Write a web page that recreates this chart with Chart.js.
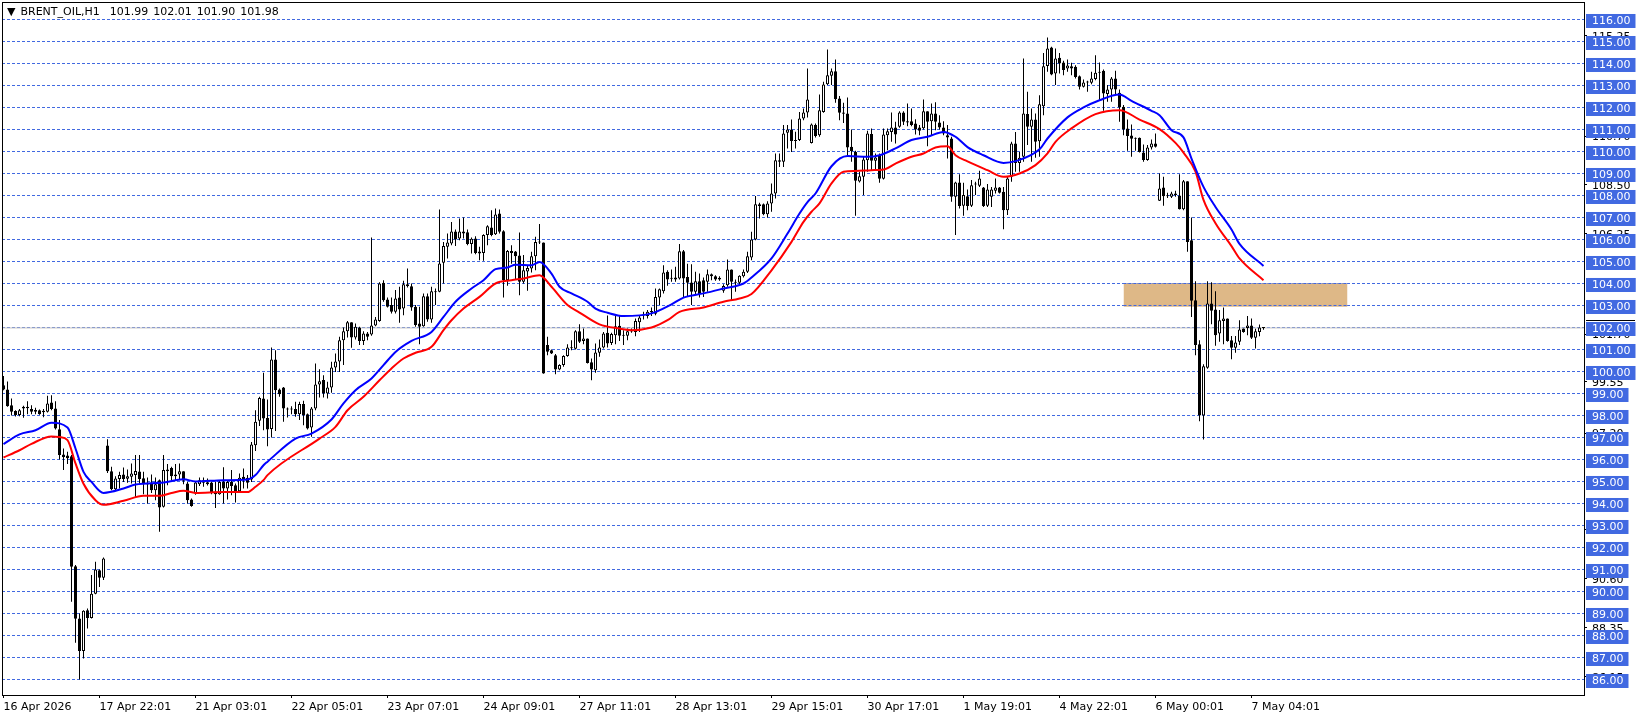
<!DOCTYPE html>
<html>
<head>
<meta charset="utf-8">
<title>BRENT_OIL,H1</title>
<script src="https://cdn.jsdelivr.net/npm/chart.js@4/dist/chart.umd.js"></script>
<style>
	html, body { margin: 0; padding: 0; background: #fff; }
	#wrap { position: relative; width: 1641px; height: 719px; overflow: hidden; }
	#chart { display: block; }
	#header {
		position: absolute; left: 7px; top: 5px; white-space: pre; word-spacing: 1.5px;
		font: 11px "DejaVu Sans", sans-serif; color: #000; line-height: 14px;
	}
</style>
</head>
<body>
<div id="wrap">
	<canvas id="chart" width="1641" height="719"></canvas>
	<div id="header">▼ BRENT_OIL,H1  101.99 102.01 101.90 101.98</div>
</div>
<script>
// Hourly candles, one value per bar
const opens = [
	99.38,99.18,98.47,98.20,98.02,98.40,98.40,98.29,98.25,98.24,
	98.21,98.17,98.59,98.32,97.38,96.23,96.18,96.15,91.15,88.77,
	87.30,89.15,88.80,89.90,90.97,90.62,96.64,95.47,94.65,95.11,
	95.32,95.12,95.21,95.29,95.45,95.15,94.94,94.94,94.60,95.06,
	93.85,95.55,95.61,95.32,95.32,95.47,94.91,94.18,94.45,94.88,
	94.94,94.97,94.95,94.53,94.42,94.98,94.68,94.98,94.83,94.56,
	95.21,95.17,95.09,96.65,97.76,98.77,97.89,97.39,100.55,99.18,
	99.27,98.32,98.30,98.29,98.06,98.52,98.06,97.45,98.32,99.41,
	99.61,99.00,99.27,100.18,100.45,101.42,101.83,102.24,101.55,102.00,
	101.39,101.73,101.68,102.09,102.30,104.03,103.27,103.02,102.71,103.36,
	102.86,103.97,103.88,102.94,102.18,102.06,103.42,102.36,103.60,103.62,
	104.94,105.67,105.82,106.36,106.05,106.36,106.33,105.79,106.05,105.45,
	105.39,106.20,106.55,106.24,107.18,106.38,104.15,105.48,105.45,105.27,
	104.08,104.55,104.68,105.24,105.88,105.86,101.20,100.97,100.74,100.09,
	100.29,100.70,101.06,101.03,101.83,101.39,101.50,100.42,100.06,100.85,
	101.09,101.76,101.30,101.65,102.08,101.65,101.62,101.85,101.80,102.24,
	102.56,102.52,102.71,102.62,103.36,103.65,104.53,104.24,104.27,104.23,
	105.47,104.30,104.05,103.62,104.10,104.15,104.08,104.42,104.33,104.26,
	103.67,103.92,104.64,104.08,104.03,104.33,104.53,105.18,106.00,107.60,
	107.60,107.15,107.64,108.09,109.60,109.53,110.85,111.00,110.50,110.52,
	111.50,111.77,110.39,111.20,110.74,111.80,113.06,113.44,113.65,112.41,
	111.77,111.73,110.21,109.98,108.64,108.85,109.60,110.79,109.58,109.83,
	108.76,110.74,110.89,111.09,111.12,111.77,111.38,111.38,111.27,111.09,
	111.06,111.83,111.38,111.73,111.32,111.09,110.74,110.59,107.94,108.59,
	107.53,107.97,107.53,108.50,108.44,108.36,107.53,107.94,108.21,108.36,
	108.17,107.33,108.85,110.36,109.48,109.76,111.70,111.12,111.45,110.47,
	112.06,113.89,114.73,113.55,114.26,114.05,113.77,113.88,113.85,113.42,
	112.94,113.14,113.12,113.29,113.58,113.67,112.61,112.82,113.32,112.67,
	112.03,111.05,110.73,110.60,110.62,109.95,109.61,110.18,110.36,107.76,
	108.36,107.97,107.94,108.09,108.00,107.38,108.65,105.97,103.24,101.24,
	98.00,100.17,103.09,102.82,101.73,102.30,102.41,101.42,101.08,101.35,
	101.95,101.98,102.09,101.53,101.80,101.99
];
const highs = [
	99.79,99.55,98.77,98.24,98.30,98.44,98.65,98.47,98.35,98.27,
	98.29,98.90,98.92,98.65,97.79,96.50,96.35,96.20,91.20,89.00,
	89.15,89.23,90.75,91.35,91.00,91.55,96.92,95.67,95.24,95.44,
	95.64,95.55,95.82,96.20,96.20,95.44,95.18,95.32,95.18,95.09,
	96.20,95.79,95.67,95.79,95.82,95.47,94.98,94.23,95.00,95.18,
	95.18,95.14,95.00,95.00,95.05,95.65,95.06,95.52,94.91,95.36,
	95.59,95.29,96.79,98.24,98.85,99.94,98.73,101.09,100.97,99.23,
	99.30,98.36,98.42,98.62,98.62,98.67,98.09,98.39,100.36,100.10,
	99.83,99.53,100.44,100.82,101.58,102.00,102.29,102.24,102.18,102.03,
	101.83,101.80,106.09,102.48,104.06,104.15,103.36,103.36,103.70,103.85,
	104.12,104.68,104.00,103.02,102.94,103.55,103.55,103.85,103.77,107.36,
	105.89,106.27,106.79,106.45,106.95,107.00,106.45,106.09,106.15,105.67,
	106.24,106.65,107.33,107.41,107.36,106.42,105.52,105.74,105.48,106.32,
	105.29,104.83,105.44,106.12,106.70,105.86,101.58,101.00,100.79,100.33,
	100.74,101.24,101.42,101.88,102.15,101.95,101.50,100.59,101.27,101.45,
	101.80,102.55,101.76,102.55,102.55,101.88,101.95,101.95,102.41,102.56,
	102.71,102.79,102.91,103.77,103.77,104.83,104.60,104.64,104.76,105.79,
	105.52,104.90,104.88,104.53,104.45,104.27,104.64,104.45,104.38,104.33,
	103.97,105.09,104.64,104.18,104.38,104.64,105.44,106.35,107.98,107.67,
	107.64,107.74,108.55,109.91,109.91,111.20,111.20,111.45,110.90,111.80,
	111.95,113.77,111.27,111.27,112.59,113.17,114.64,113.77,114.18,112.52,
	112.21,112.45,111.00,110.03,109.08,109.76,110.94,111.05,109.91,109.91,
	111.05,111.05,111.77,111.35,111.83,111.83,112.18,111.95,111.47,111.20,
	112.36,111.83,112.18,112.24,111.65,111.38,111.20,110.67,108.62,108.97,
	108.58,108.27,108.70,108.62,109.12,108.39,108.52,108.39,108.77,108.39,
	108.39,108.85,110.44,110.89,109.98,114.23,112.71,111.95,111.73,112.56,
	114.48,115.18,114.76,114.68,114.48,114.12,114.18,114.03,113.92,113.45,
	113.27,113.21,113.62,114.38,114.05,113.73,113.02,113.39,113.67,112.82,
	112.11,111.45,111.23,110.64,110.64,110.32,110.29,110.55,110.82,109.00,
	108.85,108.12,108.17,108.21,108.97,108.70,108.65,107.00,104.10,101.42,
	100.33,104.10,104.06,103.65,102.79,102.91,102.41,101.61,101.61,102.33,
	101.95,102.52,102.41,101.94,102.14,102.01
];
const lows = [
	99.15,98.40,98.00,97.95,97.97,97.90,98.06,98.06,98.06,98.03,
	97.92,98.14,98.24,97.36,96.00,95.52,95.79,89.53,87.67,86.00,
	86.95,88.32,88.77,89.88,90.20,90.52,95.39,94.60,94.60,94.68,
	94.98,94.94,94.91,94.30,94.91,94.42,94.00,94.48,94.15,92.71,
	93.82,94.83,95.06,95.06,95.09,94.88,94.00,93.85,94.40,94.79,
	94.76,94.82,94.42,93.80,94.40,94.00,94.18,94.38,94.05,94.53,
	94.68,94.68,94.98,96.39,97.52,97.33,96.60,97.00,97.30,98.85,
	97.71,97.91,98.06,97.94,97.79,97.56,97.36,97.03,98.24,98.82,
	98.82,98.77,99.03,99.98,99.98,100.29,101.55,101.08,101.45,101.20,
	101.20,101.42,101.62,102.06,102.26,103.17,102.91,102.64,102.64,102.21,
	102.56,103.82,102.76,102.03,101.24,102.03,102.26,102.21,103.02,103.60,
	104.00,105.14,105.74,105.70,105.97,106.05,105.74,105.36,105.33,105.06,
	105.03,105.74,106.15,106.20,106.27,103.36,103.90,104.90,104.20,103.47,
	104.00,103.67,104.50,104.60,105.79,99.90,100.74,100.79,99.88,100.06,
	100.21,100.67,100.97,101.00,101.30,101.24,100.36,99.60,99.94,100.67,
	101.05,101.09,101.20,101.24,101.39,101.20,101.42,101.76,101.60,101.80,
	102.36,102.41,102.52,102.56,103.02,103.55,103.90,104.08,104.08,104.18,
	103.39,103.40,103.02,103.52,103.36,103.39,103.62,104.15,104.12,104.12,
	103.58,103.85,103.24,103.62,103.97,104.27,104.48,105.06,105.97,106.95,
	107.10,107.00,107.26,107.86,109.30,109.30,110.14,109.98,110.14,110.48,
	111.42,111.55,110.36,110.64,110.67,111.76,113.02,113.02,112.21,111.42,
	111.30,109.76,109.53,107.08,108.59,108.02,109.08,109.15,109.12,108.58,
	108.73,110.06,110.44,110.36,111.08,111.20,111.15,111.15,110.77,110.74,
	111.00,110.24,110.74,110.97,111.00,110.74,109.68,107.71,106.20,107.41,
	107.08,107.33,107.48,108.02,108.39,107.48,107.48,107.48,108.09,108.09,
	106.47,107.11,108.62,109.08,109.08,109.53,110.30,109.53,109.71,109.76,
	111.65,113.62,113.47,113.02,113.55,113.47,113.62,113.47,113.32,112.82,
	112.91,112.71,113.06,113.24,112.33,111.85,112.26,112.26,112.56,111.35,
	110.74,110.03,109.76,110.03,109.95,109.53,109.58,110.09,110.18,107.75,
	107.53,107.89,107.89,107.94,107.36,107.33,105.44,102.48,100.74,97.74,
	96.91,100.12,102.15,101.17,101.35,101.24,101.35,100.56,100.85,101.20,
	101.76,101.65,101.48,101.05,101.60,101.90
];
const closes = [
	99.18,98.42,98.17,98.02,98.24,98.32,98.33,98.17,98.17,98.06,
	98.15,98.55,98.29,97.41,96.20,96.10,96.06,91.12,88.76,87.30,
	89.12,88.80,89.90,91.00,90.62,91.50,95.47,94.65,95.14,95.29,
	95.11,95.24,95.36,95.48,95.11,94.88,94.86,94.60,94.88,93.82,
	95.52,95.47,95.24,95.24,95.47,95.03,94.15,93.89,94.95,95.06,
	95.06,94.88,94.48,94.42,94.98,94.68,94.98,94.79,94.53,95.17,
	95.06,94.94,96.68,97.71,98.80,97.86,97.36,100.55,99.15,98.97,
	98.32,98.27,98.27,98.06,98.52,98.02,97.41,98.32,99.41,99.56,
	99.00,99.27,100.18,100.45,101.42,101.83,102.24,101.55,102.03,101.39,
	101.73,101.58,102.09,102.36,104.00,103.24,102.94,102.71,103.32,102.82,
	103.97,103.88,102.91,102.11,102.03,103.42,102.36,103.65,103.65,104.91,
	105.70,105.86,106.36,106.00,106.36,106.27,105.79,106.03,105.39,105.36,
	106.20,106.60,106.20,107.14,106.35,104.15,105.48,105.39,105.24,104.08,
	104.60,104.70,105.24,105.89,105.86,99.91,100.90,100.82,100.09,100.29,
	100.70,101.09,101.09,101.83,101.35,101.50,100.39,100.09,100.86,101.09,
	101.73,101.27,101.70,102.06,101.62,101.62,101.83,101.82,102.29,102.45,
	102.55,102.71,102.70,103.39,103.74,104.50,104.18,104.22,104.18,105.47,
	104.23,104.03,103.62,104.10,103.52,103.62,104.42,104.33,104.18,104.18,
	103.89,104.64,104.08,104.03,104.35,104.53,105.24,106.00,107.60,107.52,
	107.15,107.64,108.09,109.60,109.53,110.82,111.00,110.48,110.48,111.50,
	111.77,112.36,111.23,110.70,111.88,113.05,113.47,113.65,112.38,111.76,
	111.71,110.18,110.02,108.67,108.88,109.64,110.82,109.58,109.73,108.76,
	110.77,110.92,111.09,110.77,111.77,111.35,111.32,111.20,111.00,110.94,
	111.83,111.35,111.73,111.35,111.09,110.82,110.64,107.94,108.59,107.52,
	108.02,107.52,108.47,108.52,108.77,107.52,108.27,108.27,108.36,108.12,
	107.33,108.77,110.36,109.48,109.71,111.73,111.12,111.45,110.44,112.15,
	113.88,114.68,113.50,114.23,114.00,113.70,113.91,113.77,113.39,112.94,
	113.14,113.17,113.32,113.58,113.62,112.64,112.82,113.32,112.82,112.00,
	111.00,110.70,110.58,110.58,109.98,109.61,110.18,110.36,110.21,108.32,
	107.97,107.96,108.09,108.02,107.38,108.65,105.89,103.21,101.20,98.00,
	100.24,103.09,102.76,101.65,102.33,102.41,101.39,101.08,101.32,101.91,
	101.80,102.09,101.53,101.83,102.00,101.98
];

// Moving averages, sampled at the bars where they could be read
const blueBars = [
	0,4,8,12,16,18,20,22,25,30,33,40,45,48,55,61,63,65,66,73,77,82,85,88,92,95,98,102,107,110,113,
	117,120,123,126,128,132,134,137,139,142,146,148,151,155,162,167,170,175,180,185,187,192,196,199,
	201,203,207,211,216,219,223,227,231,235,238,241,245,250,253,259,261,266,270,274,279,282,287,289,
	292,295,297,300,303,307,309,315
];
const blueValues = [
	96.70,97.14,97.33,97.67,97.45,96.50,95.44,94.98,94.48,94.68,94.86,94.95,95.10,95.00,95.06,95.09,95.29,95.74,95.90,
	96.95,97.18,97.82,98.55,99.15,99.68,100.29,100.89,101.39,101.80,102.48,103.17,
	103.77,104.15,104.65,104.73,104.85,104.83,104.98,104.45,103.85,103.55,103.17,102.86,102.67,102.52,102.64,103.05,
	103.36,103.55,103.77,104.00,104.27,105.14,106.27,107.18,
	107.70,108.09,109.33,109.79,109.76,109.83,110.14,110.52,110.67,110.89,110.67,110.20,109.83,109.48,109.56,110.10,
	110.59,111.55,112.00,112.33,112.59,112.30,111.85,111.65,
	110.97,110.64,109.68,108.39,107.48,106.45,105.80,104.80
];
const redBars = [
	0,4,7,12,14,16,18,20,23,25,30,35,39,42,45,48,55,61,63,65,66,79,83,86,90,94,97,100,103,107,110,112,115,
	119,123,127,130,134,137,141,144,149,154,157,162,166,169,175,180,184,187,192,197,200,
	202,204,207,210,213,217,220,223,227,230,233,236,238,241,246,250,254,258,261,263,267,273,279,284,
	289,293,295,298,300,303,307,309,315
];
const redValues = [
	96.09,96.42,96.71,97.05,97.02,96.88,95.82,94.90,94.15,93.94,94.12,94.35,94.35,94.48,94.58,94.48,94.52,94.52,94.76,95.06,95.29,
	96.95,97.48,98.24,98.85,99.60,100.14,100.59,100.85,101.12,101.88,102.33,102.86,
	103.39,104.00,104.15,104.23,104.38,103.85,103.02,102.68,102.14,101.95,101.88,102.00,102.33,102.71,102.91,103.17,103.32,103.52,104.60,105.89,106.80,
	107.26,107.64,108.55,109.08,109.11,109.15,109.18,109.45,109.76,109.91,110.18,110.24,109.83,109.55,109.15,108.85,109.00,109.38,109.91,110.44,111.05,111.70,111.88,111.45,
	111.02,110.39,109.95,109.08,107.80,106.74,105.70,105.14,104.15
];

// Price levels
const levelPrices = [
	116,115,114,113,112,111,110,109,108,107,106,105,104,103,102,101,
	100,99,98,97,96,95,94,93,92,91,90,89,88,87,86
];
const nativeTicks = [115.25,113.0,110.7,108.5,106.25,104.0,101.7,99.55,97.2,95.0,92.8,90.6,88.35,86.15];
const bidPrice = 101.98;

// Supply zone
const zoneBars = [280, 336];
const zoneTop = 104.0;
const zoneBottom = 102.94;
const zoneLevels = [104, 103];

// Time axis
const timeTickBars = [0,24,48,72,96,120,144,168,192,216,240,264,288,312];
const timeLabels = [
	"16 Apr 2026","17 Apr 22:01","21 Apr 03:01","22 Apr 05:01","23 Apr 07:01","24 Apr 09:01","27 Apr 11:01",
	"28 Apr 13:01","29 Apr 15:01","30 Apr 17:01","1 May 19:01","4 May 22:01","6 May 00:01","7 May 04:01"
];

const AXIS_FONT = { family: "'DejaVu Sans', sans-serif", size: 11, lineHeight: "14px" };
const LEVEL_BLUE = "#4169e1";

const bars = opens.map((_, i) => i);
const isLevel = (v) => levelPrices.includes(v);
const toPoints = (xs, ys) => xs.map((x, i) => ({ x: x, y: ys[i] }));

// Keep the first and last labels from pushing the plot inwards
const clearAxisPadding = (scale) => {
	scale.paddingLeft = 0;
	scale.paddingRight = 0;
	scale.paddingTop = 0;
	scale.paddingBottom = 0;
};

new Chart(document.getElementById("chart"), {
	data: {
		datasets: [
			{
				type: "line",
				data: zoneBars.map((x) => ({ x: x, y: zoneTop })),
				borderWidth: 0,
				pointRadius: 0,
				fill: "+1",
				backgroundColor: "#deb887",
				order: 20,
			},
			{
				type: "line",
				data: zoneBars.map((x) => ({ x: x, y: zoneBottom })),
				borderWidth: 0,
				pointRadius: 0,
				order: 21,
			},
			...zoneLevels.map((level) => ({
				type: "line",
				data: zoneBars.map((x) => ({ x: x, y: level })),
				borderColor: LEVEL_BLUE,
				borderWidth: 1,
				borderDash: [3, 2],
				pointRadius: 0,
				order: 15,
			})),
			{
				type: "line",
				data: [{ x: -0.375, y: bidPrice }, { x: 395.125, y: bidPrice }],
				borderColor: "#c0c0c0",
				borderWidth: 1,
				pointRadius: 0,
				order: 12,
			},
			{
				// wicks
				type: "bar",
				data: bars.map((i) => ({ x: i, y: [lows[i], highs[i]] })),
				backgroundColor: "#000",
				barThickness: 1,
				grouped: false,
				inflateAmount: 0,
				order: 6,
			},
			{
				// bodies
				type: "bar",
				data: bars.map((i) => ({ x: i, y: [opens[i], closes[i]] })),
				backgroundColor: bars.map((i) => (closes[i] >= opens[i] ? "#fff" : "#000")),
				borderColor: "#000",
				borderWidth: 1,
				borderSkipped: false,
				barThickness: 3,
				minBarLength: 1,
				grouped: false,
				inflateAmount: 0,
				order: 5,
			},
			{
				type: "line",
				data: toPoints(redBars, redValues),
				borderColor: "#ff0000",
				borderWidth: 2,
				pointRadius: 0,
				cubicInterpolationMode: "monotone",
				order: 2,
			},
			{
				type: "line",
				data: toPoints(blueBars, blueValues),
				borderColor: "#0000ff",
				borderWidth: 2,
				pointRadius: 0,
				cubicInterpolationMode: "monotone",
				order: 1,
			},
		],
	},
	options: {
		responsive: false,
		animation: false,
		devicePixelRatio: 1,
		layout: { padding: { left: 2, top: 2, right: 0, bottom: 0 } },
		plugins: { legend: { display: false }, tooltip: { enabled: false } },
		scales: {
			x: {
				type: "linear",
				offset: false,
				min: -0.375,
				max: 395.125,
				afterBuildTicks: (scale) => {
					scale.ticks = timeTickBars.map((v) => ({ value: v }));
				},
				afterFit: (scale) => {
					scale.height = 24;
					clearAxisPadding(scale);
				},
				grid: { offset: false, drawOnChartArea: false, tickLength: 3, color: "#000" },
				border: { color: "#000" },
				ticks: {
					font: AXIS_FONT,
					color: "#000",
					align: "start",
					autoSkip: false,
					maxRotation: 0,
					padding: 2,
					callback: (v) => timeLabels[timeTickBars.indexOf(v)],
				},
			},
			y: {
				type: "linear",
				position: "right",
				min: 85.295,
				max: 116.795,
				afterBuildTicks: (scale) => {
					// native ticks first so the blue level chips cover them
					scale.ticks = [...nativeTicks, ...levelPrices].map((v) => ({ value: v }));
				},
				afterFit: (scale) => {
					scale.width = 57;
					clearAxisPadding(scale);
				},
				grid: {
					color: (ctx) => (isLevel(ctx.tick.value) ? LEVEL_BLUE : "transparent"),
					tickColor: (ctx) => (isLevel(ctx.tick.value) ? "transparent" : "#000"),
					tickLength: 3,
				},
				border: { color: "#000", dash: [3, 2] },
				ticks: {
					font: AXIS_FONT,
					autoSkip: false,
					crossAlign: "near",
					padding: 5,
					labelOffset: 1.5,
					color: (ctx) => (isLevel(ctx.tick.value) ? "#fff" : "#000"),
					showLabelBackdrop: (ctx) => isLevel(ctx.tick.value),
					backdropColor: LEVEL_BLUE,
					backdropPadding: { left: 6, right: 5, top: 0, bottom: 0 },
					callback: (v) => v.toFixed(2),
				},
			},
		},
	},
	plugins: [
		{
			// frame around the plot, plus the top edge of the bid label poking out above the 102 chip
			id: "frame",
			afterDraw(chart) {
				const { ctx, chartArea: a } = chart;
				ctx.save();
				ctx.strokeStyle = "#000";
				ctx.lineWidth = 1;
				ctx.setLineDash([]);
				ctx.strokeRect(a.left + 0.5, a.top + 0.5, a.right - a.left, a.bottom - a.top);
				ctx.fillStyle = "#000";
				ctx.fillRect(a.right + 2, Math.round(chart.scales.y.getPixelForValue(bidPrice)) - 8, 49, 1);
				ctx.restore();
			},
		},
	],
});
</script>
</body>
</html>
